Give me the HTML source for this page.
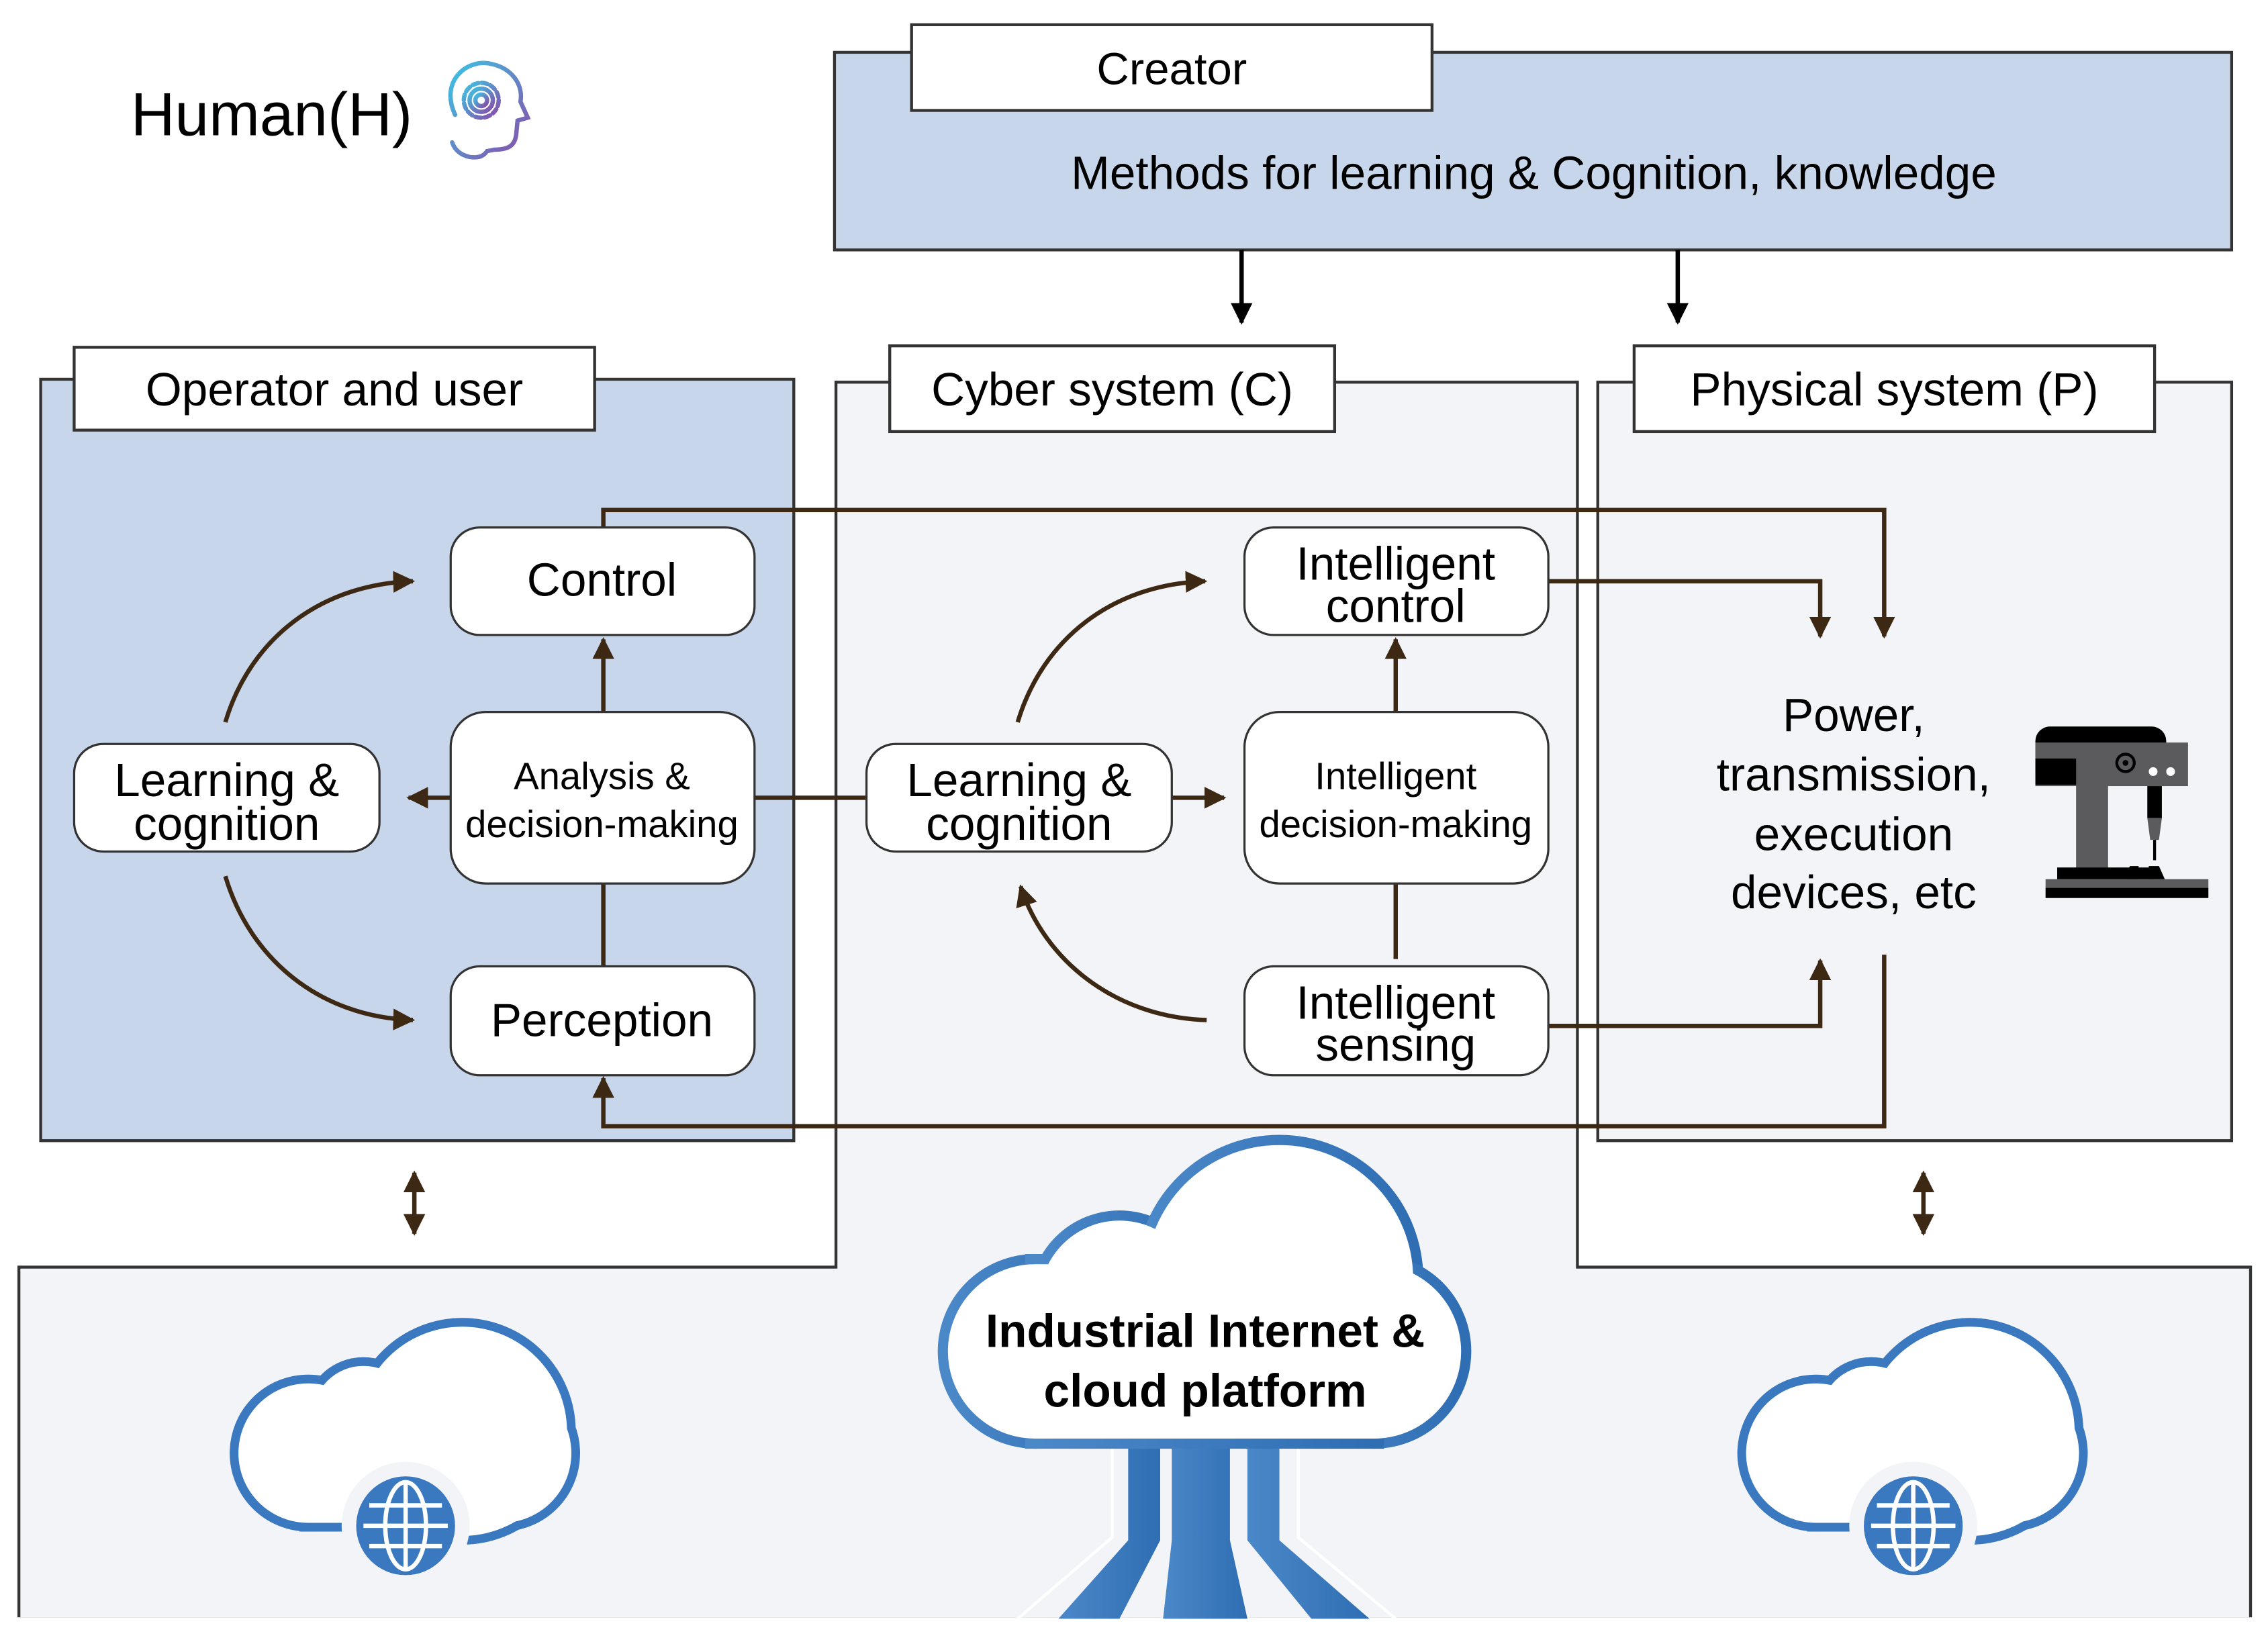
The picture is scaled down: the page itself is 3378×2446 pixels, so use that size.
<!DOCTYPE html>
<html><head><meta charset="utf-8">
<style>
html,body{margin:0;padding:0;background:#fff;}
svg{display:block;}
text{font-family:"Liberation Sans","Noto Sans CJK KR",sans-serif;fill:#000;}
</style></head>
<body>
<svg width="3378" height="2446" viewBox="0 0 1560 1130" preserveAspectRatio="none" xmlns="http://www.w3.org/2000/svg">
<defs>
<marker id="ah" viewBox="0 0 10 10" refX="9" refY="5" markerWidth="5" markerHeight="5" orient="auto-start-reverse" markerUnits="strokeWidth">
<path d="M0,0 L10,5 L0,10 z" fill="#3d2814"/></marker>
<marker id="ak" viewBox="0 0 10 10" refX="9" refY="5" markerWidth="5" markerHeight="5" orient="auto" markerUnits="strokeWidth">
<path d="M0,0 L10,5 L0,10 z" fill="#000"/></marker>
<linearGradient id="hg" x1="0" y1="0" x2="1" y2="1"><stop offset="0" stop-color="#3cc4e4"/><stop offset="1" stop-color="#8a4aa8"/></linearGradient>
<linearGradient id="bg" x1="0" y1="0" x2="1" y2="0"><stop offset="0" stop-color="#4a88c8"/><stop offset="1" stop-color="#306eb4"/></linearGradient>
</defs>

<path d="M13,1114 L13,872 L575,872 L575,263 L1085,263 L1085,872 L1548,872 L1548,1114 Z" fill="#f2f4f8" stroke="#333" stroke-width="2"/>
<rect x="0" y="1113" width="1560" height="17" fill="#fff"/>

<rect x="574" y="36" width="961" height="136" fill="#c7d6ea" stroke="#333" stroke-width="2"/>
<rect x="627" y="17" width="358" height="59" fill="#fff" stroke="#333" stroke-width="2"/>
<text x="806" y="58" font-size="31" text-anchor="middle">Creator</text>
<text x="1055" y="130" font-size="32" text-anchor="middle">Methods for learning &amp; Cognition, knowledge</text>
<line x1="854" y1="172" x2="854" y2="222" stroke="#000" stroke-width="3" marker-end="url(#ak)"/>
<line x1="1154" y1="172" x2="1154" y2="222" stroke="#000" stroke-width="3" marker-end="url(#ak)"/>

<text x="90" y="93" font-size="42">Human(H)</text>
<g fill="none" stroke="url(#hg)" stroke-width="3" stroke-linecap="round">
<path d="M313,79 C302,55 322,40 338,44 C352,47 360,58 358,70 L363,81 L356,83 L355,93 C354,100 350,103 340,103 L335,104 C333,107 330,109 323,108 C318,107 313,104 311,98"/>
<circle cx="331" cy="69" r="12" stroke-dasharray="4 2.3"/><circle cx="331" cy="69" r="8"/><circle cx="331" cy="69" r="4"/>
</g>

<rect x="28" y="261" width="518" height="524" fill="#c7d6ea" stroke="#333" stroke-width="2"/>
<rect x="51" y="239" width="358" height="57" fill="#fff" stroke="#333" stroke-width="2"/>
<text x="230" y="279" font-size="32" text-anchor="middle">Operator and user</text>

<rect x="612" y="238" width="306" height="59" fill="#fff" stroke="#333" stroke-width="2"/>
<text x="765" y="279" font-size="32" text-anchor="middle">Cyber system (C)</text>

<rect x="1099" y="263" width="436" height="522" fill="#f2f4f8" stroke="#333" stroke-width="2"/>
<rect x="1124" y="238" width="358" height="59" fill="#fff" stroke="#333" stroke-width="2"/>
<text x="1303" y="279" font-size="32" text-anchor="middle">Physical system (P)</text>

<g fill="none" stroke="#3d2814" stroke-width="3">
<path d="M415,363 L415,351 L1296,351 L1296,438" marker-end="url(#ah)"/>
<path d="M1065,400 L1252,400 L1252,438" marker-end="url(#ah)"/>
<path d="M1065,706 L1252,706 L1252,661" marker-end="url(#ah)"/>
<path d="M1296,657 L1296,775 L415,775 L415,742" marker-end="url(#ah)"/>
<path d="M415,490 L415,440" marker-end="url(#ah)"/>
<path d="M415,608 L415,665"/>
<path d="M310,549 L281,549" marker-end="url(#ah)"/>
<path d="M519,549 L596,549"/>
<path d="M806,549 L842,549" marker-end="url(#ah)"/>
<path d="M960,490 L960,440" marker-end="url(#ah)"/>
<path d="M960,608 L960,660"/>
<path d="M155,497 C172,440 220,402 284,400" marker-end="url(#ah)"/>
<path d="M155,603 C172,660 220,700 284,702" marker-end="url(#ah)"/>
<path d="M700,497 C717,440 765,402 829,400" marker-end="url(#ah)"/>
<path d="M830,702 C766,700 718,660 702,610" marker-end="url(#ah)"/>
<path d="M285,807 L285,849" marker-end="url(#ah)" marker-start="url(#ah)"/>
<path d="M1323,807 L1323,849" marker-end="url(#ah)" marker-start="url(#ah)"/>
</g>

<g fill="#fff" stroke="#333" stroke-width="1.5">
<rect x="310" y="363" width="209" height="74" rx="20"/>
<rect x="310" y="490" width="209" height="118" rx="24"/>
<rect x="310" y="665" width="209" height="75" rx="20"/>
<rect x="51" y="512" width="210" height="74" rx="20"/>
<rect x="596" y="512" width="210" height="74" rx="20"/>
<rect x="856" y="363" width="209" height="74" rx="20"/>
<rect x="856" y="490" width="209" height="118" rx="24"/>
<rect x="856" y="665" width="209" height="75" rx="20"/>
</g>
<g font-size="32" text-anchor="middle">
<text x="414" y="410">Control</text>
<text x="414" y="713">Perception</text>
<text x="156" y="548">Learning &amp;</text>
<text x="156" y="578">cognition</text>
<text x="701" y="548">Learning &amp;</text>
<text x="701" y="578">cognition</text>
<text x="960" y="399">Intelligent</text>
<text x="960" y="428">control</text>
<text x="960" y="701">Intelligent</text>
<text x="960" y="730">sensing</text>
</g>
<g font-size="26" text-anchor="middle">
<text x="414" y="543">Analysis &amp;</text>
<text x="414" y="576">decision-making</text>
<text x="960" y="543">Intelligent</text>
<text x="960" y="576">decision-making</text>
</g>
<g font-size="32" text-anchor="middle">
<text x="1275" y="503">Power,</text>
<text x="1275" y="544">transmission,</text>
<text x="1275" y="585">execution</text>
<text x="1275" y="625">devices, etc</text>
</g>

<g>
<rect x="1400" y="500" width="90" height="40" rx="10" fill="#000"/>
<rect x="1400" y="511" width="105" height="30" fill="#5b5b5d"/>
<rect x="1400" y="522" width="28" height="18" fill="#000"/>
<rect x="1428" y="540" width="22" height="65" fill="#5b5b5d"/>
<circle cx="1462" cy="525" r="6" fill="none" stroke="#000" stroke-width="2"/>
<circle cx="1462" cy="525" r="2" fill="#000"/>
<circle cx="1481" cy="531" r="3" fill="#fff"/><circle cx="1493" cy="531" r="3" fill="#fff"/>
<rect x="1477" y="541" width="10" height="22" fill="#000"/>
<path d="M1477,563 L1487,563 L1485,578 L1479,578 Z" fill="#5b5b5d"/>
<rect x="1481" y="578" width="2" height="14" fill="#000"/>
<rect x="1415" y="597" width="66" height="8" fill="#000"/>
<path d="M1461,605 L1465,596 L1471,596 L1471,605 Z M1478,605 L1478,596 L1485,596 L1489,605 Z" fill="#000"/>
<rect x="1407" y="605" width="112" height="6" fill="#5b5b5d"/>
<rect x="1407" y="611" width="112" height="7" fill="#000"/>
</g>

<g fill="url(#bg)">
<path d="M806,993 L846,993 L846,1060 L858,1114 L800,1114 L806,1060 Z"/>
<path d="M776,993 L798,993 L798,1060 L770,1114 L728,1114 L776,1060 Z"/>
<path d="M858,993 L880,993 L880,1060 L942,1114 L902,1114 L858,1060 Z"/>
</g>
<g fill="none" stroke="#fff" stroke-width="2">
<path d="M765,993 L765,1058 L700,1114"/>
<path d="M893,993 L893,1058 L960,1114"/>
</g>

<g stroke="url(#bg)" stroke-width="14" fill="url(#bg)">
<circle cx="712" cy="930" r="60"/><circle cx="770" cy="895" r="55"/><circle cx="880" cy="880" r="92"/><circle cx="945" cy="930" r="60"/>
<rect x="712" y="870" width="233" height="120"/>
</g>
<g fill="#fff">
<circle cx="712" cy="930" r="60"/><circle cx="770" cy="895" r="55"/><circle cx="880" cy="880" r="92"/><circle cx="945" cy="930" r="60"/>
<rect x="712" y="870" width="233" height="120"/>
</g>
<g font-size="32" font-weight="bold" text-anchor="middle">
<text x="829" y="927">Industrial Internet &amp;</text>
<text x="829" y="968">cloud platform</text>
</g>

<g id="sc">
<g stroke="#3a78c0" stroke-width="12" fill="#3a78c0">
<circle cx="212" cy="1000" r="48"/><circle cx="250" cy="975" r="35"/><circle cx="318" cy="985" r="72"/><circle cx="345" cy="1000" r="48"/>
<rect x="212" y="980" width="133" height="68"/>
</g>
<g fill="#fff">
<circle cx="212" cy="1000" r="48"/><circle cx="250" cy="975" r="35"/><circle cx="318" cy="985" r="72"/><circle cx="345" cy="1000" r="48"/>
<rect x="212" y="980" width="133" height="68"/>
</g>
<circle cx="279" cy="1050" r="44" fill="#f2f4f8"/>
<circle cx="279" cy="1050" r="34" fill="#3a78c0"/>
<g fill="none" stroke="#fff" stroke-width="3">
<ellipse cx="279" cy="1050" rx="14" ry="30"/>
<line x1="279" y1="1020" x2="279" y2="1080"/>
<line x1="250" y1="1050" x2="308" y2="1050"/>
<line x1="254" y1="1036" x2="304" y2="1036"/>
<line x1="254" y1="1064" x2="304" y2="1064"/>
</g>
</g>
<use href="#sc" transform="translate(1037,0)"/>
</svg>
</body></html>
